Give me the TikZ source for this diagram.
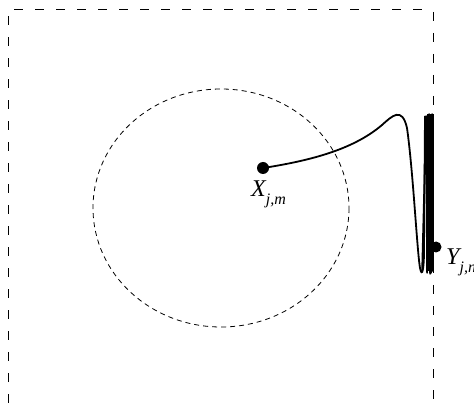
\documentclass[tikz,border=0pt]{standalone}
\usepackage{fontspec}
\setmainfont{Liberation Serif}
\begin{document}
\begin{tikzpicture}[x=1pt,y=-1pt,
  border/.style={line width=1pt, dash pattern=on 9pt off 12pt},
  ball/.style={circle, fill=black, inner sep=0pt, minimum size=#1},
  lbl/.style={anchor=base west, inner sep=0pt, font=\fontsize{24}{26}\selectfont\itshape}]
\useasboundingbox (0,0) rectangle (474,403);
% border
\draw[border] (8,403) -- (8,10) -- (425,10);
\draw[border] (433,12) -- (433,403);
% ellipse
\draw[line width=0.8pt, dash pattern=on 5pt off 4pt] (221,208) ellipse[x radius=128, y radius=119];
% band
\fill (426.5,114) rectangle (433.5,271);
\draw[line width=1.5pt, line join=round]
  (422,272) -- (426,116) -- (427,273) -- (429,114) -- (430,274) -- (432,114) -- (431,273) -- (433,115) -- (433,272);
% curve
\node[ball=12pt] (X) at (263,168) {};
\node[ball=11pt] (Y) at (436,247) {};
\draw[line width=1.8pt] (X.center) .. controls (315,160) and (355,148) .. (382,125)
  .. controls (392,116) and (402,106) .. (407,128)
  .. controls (413,170) and (417,250) .. (420,268)
  .. controls (422,278) and (424,270) .. (424,250)
  -- (425,116);
% labels
\node[lbl] (XL) at (251,197) {X\raisebox{-8pt}{\fontsize{16}{18}\selectfont j,m}};
\node[lbl] (YL) at (446,265) {Y\raisebox{-8pt}{\fontsize{16}{18}\selectfont j,n}};
\end{tikzpicture}
\end{document}
